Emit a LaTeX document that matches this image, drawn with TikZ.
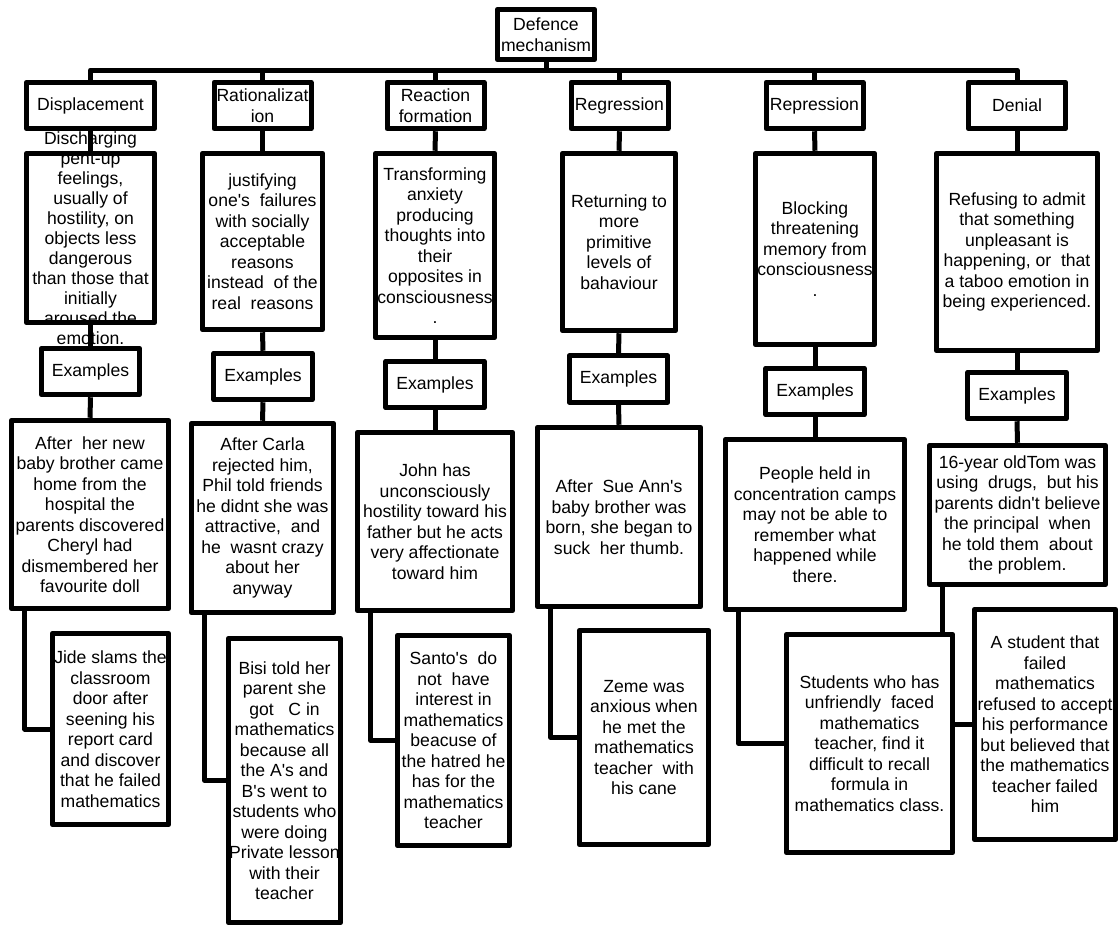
\documentclass[tikz,border=0pt]{standalone}
\usepackage{fontspec}
\setmainfont{Liberation Sans}[Ligatures=TeXOff]
\usepackage{tikz}

\begin{document}
\begin{tikzpicture}[x=1pt,y=-1pt,
  box/.style={draw,line width=5pt,line join=round,inner sep=0pt,align=center,font=\fontsize{17.6}{20.5}\selectfont},
  mech/.style={box,minimum width=97pt,minimum height=46.5pt},
  exbox/.style={box,minimum width=98.5pt,minimum height=46.5pt},
  conn/.style={line width=5pt,line join=round}]
\useasboundingbox (0,0) rectangle (1119,927);

\node[box,minimum width=97.5pt,minimum height=50.5pt] (defence) at (546,34.5) {Defence\\mechanism};
\coordinate (bus) at (546,70);

\node[mech,minimum width=128.5pt] (disp) at (90.5,105.5) {Displacement};
\node[mech] (rat) at (262.5,105.5) {Rationalizat\\ion};
\node[mech] (react) at (435.5,105.5) {Reaction\\formation};
\node[mech] (regr) at (619.5,105.5) {Regression};
\node[mech] (repr) at (814.5,105.5) {Repression};
\node[mech] (deni) at (1017,105.5) {Denial};

\node[box,minimum width=128.5pt,minimum height=169.5pt] (dispdef) at (90.5,238) {};
\node[align=center,inner sep=0pt,font=\fontsize{17.6}{20}\selectfont] (dispdeftxt) at (dispdef) {Discharging\\pent-up\\feelings,\\usually of\\hostility, on\\objects less\\dangerous\\than those that\\initially\\aroused the\\emotion.};
\node[box,minimum width=120.5pt,minimum height=176.5pt] (ratdef) at (262.5,241.5) {justifying\\one's\ \ failures\\with socially\\acceptable\\reasons\\instead\ \ of the\\real\ \ reasons};
\node[box,minimum width=119.5pt,minimum height=184.5pt] (reactdef) at (435,245.5) {Transforming\\anxiety\\producing\\thoughts into\\their\\opposites in\\consciousness\\.};
\node[box,minimum width=113.5pt,minimum height=177.5pt] (regrdef) at (619,242) {Returning to\\more\\primitive\\levels of\\bahaviour};
\node[box,minimum width=119.5pt,minimum height=191.5pt] (reprdef) at (815,249) {Blocking\\threatening\\memory from\\consciousness\\.};
\node[box,minimum width=161.5pt,minimum height=197.5pt] (denidef) at (1017,252) {Refusing to admit\\that something\\unpleasant is\\happening, or\ \ that\\a taboo emotion in\\being experienced.};

\node[exbox] (dispex) at (90.5,371.5) {Examples};
\node[exbox] (ratex) at (263,376.5) {Examples};
\node[exbox] (reactex) at (435,384.5) {Examples};
\node[exbox] (regrex) at (618.5,379) {Examples};
\node[exbox] (reprex) at (815,391.5) {Examples};
\node[exbox] (deniex) at (1017,395.5) {Examples};

\node[box,minimum width=157.5pt,minimum height=188.5pt] (dispa) at (90,514.5) {After\ \ her new\\baby brother came\\home from the\\hospital the\\parents discovered\\Cheryl had\\dismembered her\\favourite doll};
\node[box,minimum width=142.5pt,minimum height=189.5pt] (rata) at (262.5,518) {After Carla\\rejected him,\\Phil told friends\\he didnt she was\\attractive,\ \ and\\he\ \ wasnt crazy\\about her\\anyway};
\node[box,minimum width=155.5pt,minimum height=178.5pt] (reacta) at (435,521.5) {John has\\unconsciously\\hostility toward his\\father but he acts\\very affectionate\\toward him};
\node[box,minimum width=163.5pt,minimum height=179.5pt] (regra) at (619,517) {After\ \ Sue Ann's\\baby brother was\\born, she began to\\suck\ \ her thumb.};
\node[box,minimum width=179.5pt,minimum height=170.5pt] (repra) at (815,524.5) {People held in\\concentration camps\\may not be able to\\remember what\\happened while\\there.};
\node[box,minimum width=176.5pt,minimum height=139.5pt] (denia) at (1017.5,515) {16-year oldTom was\\using\ \ drugs,\ \ but his\\parents didn't believe\\the principal\ \ when\\he told them\ \ about\\the problem.};

\node[box,minimum width=116.5pt,minimum height=191.5pt] (dispb) at (110.5,729) {Jide slams the\\classroom\\door after\\seening his\\report card\\and discover\\that he failed\\mathematics};
\node[box,minimum width=112.5pt,minimum height=284.5pt] (ratb) at (284.5,780.5) {Bisi told her\\parent she\\got\ \ \ C in\\mathematics\\because all\\the A's and\\B's went to\\students who\\were doing\\Private lesson\\with their\\teacher};
\node[box,minimum width=112.5pt,minimum height=210.5pt] (reactb) at (453.5,740.5) {Santo's\ \ do\\not\ \ have\\interest in\\mathematics\\beacuse of\\the hatred he\\has for the\\mathematics\\teacher};
\node[box,minimum width=129.5pt,minimum height=214.5pt] (regrb) at (644,737.5) {Zeme was\\anxious when\\he met the\\mathematics\\teacher\ \ with\\his cane};
\node[box,minimum width=141.5pt,minimum height=230.5pt] (denib) at (1045,724.5) {A student that\\failed\\mathematics\\refused to accept\\his performance\\but believed that\\the mathematics\\teacher failed\\him};

\draw[conn] ([xshift=16pt]denia.south west) |- (denib.west);
\node[box,fill=white,minimum width=166.5pt,minimum height=218.5pt] (reprb) at (869.5,743.5) {Students who has\\unfriendly\ \ faced\\mathematics\\teacher, find it\\difficult to recall\\formula in\\mathematics class.};

\draw[conn] (defence.south) -- (bus);
\draw[conn] (disp.north) |- (bus) -| (deni.north);
\foreach \n in {rat,react,regr,repr}
  \draw[conn] (\n.north) -- (\n.north |- bus);
\foreach \n in {disp,rat,react,regr,repr,deni} {
  \draw[conn] (\n.south) -- (\n def.north);
  \draw[conn] (\n def.south) -- (\n ex.north);
  \draw[conn] (\n ex.south) -- (\n a.north);
}
\foreach \n in {disp,rat,react,regr,repr}
  \draw[conn] ([xshift=16pt]\n a.south west) |- (\n b.west);
\end{tikzpicture}
\end{document}
